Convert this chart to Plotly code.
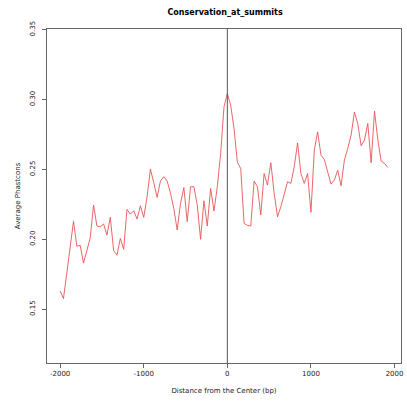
import plotly.graph_objects as go

step = 40
x_start = -2000
phastcons = [
    0.163, 0.1576, 0.176, 0.193, 0.213, 0.195, 0.1957, 0.183, 0.192, 0.201,
    0.2245, 0.2095, 0.209, 0.211, 0.203, 0.2157, 0.192, 0.1886, 0.2007, 0.1929,
    0.2214, 0.218, 0.2205, 0.2145, 0.224, 0.2157, 0.2305, 0.2502, 0.2405, 0.230,
    0.2417, 0.2448, 0.2417, 0.233, 0.222, 0.2067, 0.2257, 0.237, 0.2126, 0.2376,
    0.2376, 0.2245, 0.200, 0.2276, 0.2095, 0.2364, 0.2202, 0.2376, 0.2614, 0.2948,
    0.3043, 0.296, 0.2793, 0.255, 0.2507, 0.2114, 0.210, 0.2095, 0.2417, 0.2376,
    0.2174, 0.2471, 0.2388, 0.2548, 0.233, 0.2162, 0.2233, 0.2317, 0.2412, 0.240,
    0.2519, 0.269, 0.2471, 0.240, 0.2471, 0.2193, 0.2638, 0.2769, 0.2602, 0.2571,
    0.2483, 0.2395, 0.2424, 0.2495, 0.2383, 0.2567, 0.265, 0.2745, 0.291, 0.2829,
    0.2669, 0.271, 0.2829, 0.2548, 0.2917, 0.271, 0.256, 0.2543, 0.2514,
]
distance = [x_start + step * i for i in range(len(phastcons))]

x_ticks = [-2000, -1000, 0, 1000, 2000]
y_ticks = [0.15, 0.20, 0.25, 0.30, 0.35]
y_tick_labels = ["0.15", "0.20", "0.25", "0.30", "0.35"]

font = "DejaVu Sans"
axis_col = "#666666"
text_col = "#222222"

fig = go.Figure()
fig.add_trace(go.Scatter(
    x=distance, y=phastcons, mode="lines",
    line=dict(color="rgb(232,85,85)", width=0.9),
    showlegend=False, hoverinfo="skip",
))
fig.add_vline(x=0, line=dict(color="#555555", width=1))

fig.update_layout(
    width=407, height=404,
    margin=dict(l=47, r=4, t=29, b=41),
    paper_bgcolor="white", plot_bgcolor="white",
    title=dict(text="<b>Conservation_at_summits</b>", x=0.553, xanchor="center",
               y=1 - 12 / 404, yanchor="middle",
               font=dict(family=font, size=8, color="black")),
    font=dict(family=font, size=7, color=text_col),
)
fig.update_xaxes(
    range=[-2157, 2077], tickvals=x_ticks, ticktext=[str(v) for v in x_ticks],
    showgrid=False, zeroline=False,
    showline=True, linecolor=axis_col, linewidth=1, mirror=True,
    ticks="outside", ticklen=4, tickcolor=axis_col,
    tickfont=dict(family=font, size=7, color=text_col),
    title=dict(text="Distance from the Center (bp)", standoff=10,
               font=dict(family=font, size=7, color=text_col)),
)
fig.update_yaxes(
    range=[0.1115, 0.3505], tickvals=y_ticks, ticktext=y_tick_labels,
    tickangle=-90, ticklabelstandoff=4,
    showgrid=False, zeroline=False,
    showline=True, linecolor=axis_col, linewidth=1, mirror=True,
    ticks="outside", ticklen=4, tickcolor=axis_col,
    tickfont=dict(family=font, size=7, color=text_col),
    title=dict(text="Average Phastcons", standoff=7,
               font=dict(family=font, size=7, color=text_col)),
)

fig.write_html(
    "out.html",
    config={"displayModeBar": False, "staticPlot": True},
    post_script="document.body.style.margin='0';document.body.style.overflow='hidden';",
)
